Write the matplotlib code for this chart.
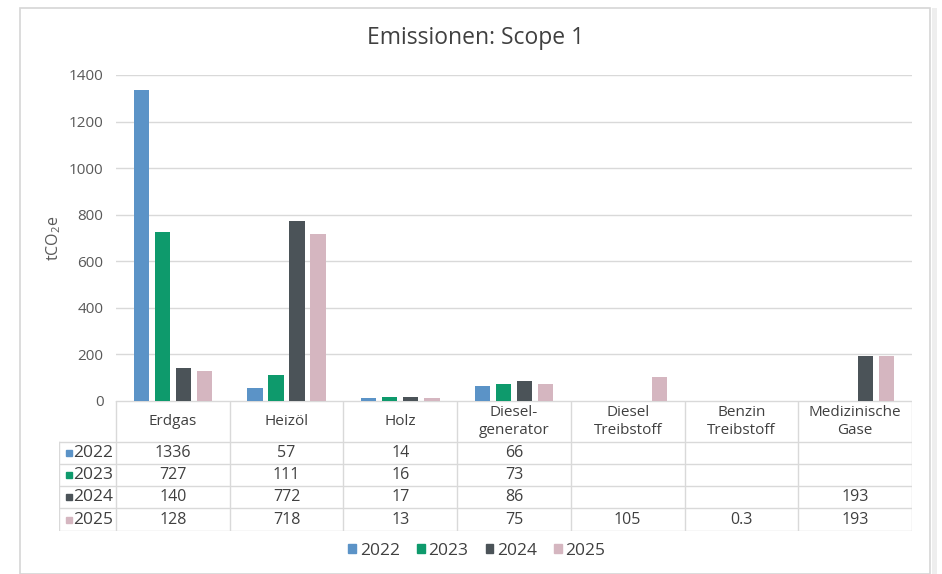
import numpy as np
import matplotlib as mpl
import matplotlib.pyplot as plt
from matplotlib.patches import Rectangle

plt.rcParams['font.family'] = ['Open Sans', 'DejaVu Sans']
plt.rcParams['mathtext.fontset'] = 'custom'
plt.rcParams['mathtext.rm'] = 'Open Sans'
plt.rcParams['mathtext.it'] = 'Open Sans'

# Daten
kategorien = ['Erdgas', 'Heizöl', 'Holz', 'Diesel-\ngenerator', 'Diesel\nTreibstoff',
              'Benzin\nTreibstoff', 'Medizinische\nGase']
jahre = ['2022', '2023', '2024', '2025']
werte_2022 = [1336, 57, 14, 66, None, None, None]
werte_2023 = [727, 111, 16, 73, None, None, None]
werte_2024 = [140, 772, 17, 86, None, None, 193]
werte_2025 = [128, 718, 13, 75, 105, 0.3, 193]
serien = [werte_2022, werte_2023, werte_2024, werte_2025]
farben = ['#5b93c7', '#0e9a6c', '#4b5358', '#d5b6c0']

W, H = 942, 574
fig = plt.figure(figsize=(W / 100, H / 100), dpi=100)
fig.patch.set_facecolor('white')

# Karte mit Rahmen
fig.patches.append(Rectangle((20 / W, 0), 910 / W, 1 - 8 / H, transform=fig.transFigure,
                             fill=False, edgecolor='#d6d6d6', linewidth=1.2))
fig.patches.append(Rectangle((932 / W, 0), 5 / W, 1 - 8 / H, transform=fig.transFigure,
                             facecolor='#eeeeee', edgecolor='none'))


def px(x0, y0, x1, y1):
    return [x0 / W, 1 - y1 / H, (x1 - x0) / W, (y1 - y0) / H]


ax = fig.add_axes(px(116, 75, 912, 401))
ax.set_xlim(-0.5, 6.5)
ax.set_ylim(0, 1400)
for s in ax.spines.values():
    s.set_visible(False)
ax.set_yticks(np.arange(0, 1401, 200))
ax.yaxis.grid(True, color='#d9d9d9', linewidth=1)
ax.set_axisbelow(True)
ax.tick_params(axis='y', length=0, pad=9, labelsize=11, labelcolor='#595959')
ax.set_xticks([])
ax.set_ylabel('tCO$_2$e', fontsize=11.5, color='#595959', labelpad=4)

x = np.arange(len(kategorien))
breite = 0.135
schritt = 0.185
for i, (werte, farbe) in enumerate(zip(serien, farben)):
    v = [w if w is not None else 0 for w in werte]
    ax.bar(x + (i - 1.5) * schritt, v, width=breite, color=farbe, zorder=3)

fig.text(476 / W, 1 - 38 / H, 'Emissionen: Scope 1', fontsize=16.5, color='#404040',
         ha='center', va='center')

# Datentabelle
links = 59
spalte = (912 - 116) / 7
tab = fig.add_axes(px(links, 401, 912, 531))
tab.set_xlim(-0.5 - (116 - links) / spalte, 6.5)
tab.set_ylim(531, 401)
tab.axis('off')
lc = '#d9d9d9'
zeilen_y = [442, 464, 486, 508, 531]
xl = -0.5 - (116 - links) / spalte
tab.plot([-0.5, 6.5], [401, 401], color=lc, lw=1)
for y in zeilen_y:
    tab.plot([xl, 6.5], [y, y], color=lc, lw=1)
for k in range(8):
    tab.plot([k - 0.5, k - 0.5], [401, 531], color=lc, lw=1)
tab.plot([xl, xl], [442, 531], color=lc, lw=1)

for k, name in enumerate(kategorien):
    tab.text(k, 421.5, name, ha='center', va='center', fontsize=11, color='#404040',
             linespacing=1.2)

for i, (jahr, werte, farbe) in enumerate(zip(jahre, serien, farben)):
    ym = (zeilen_y[i] + zeilen_y[i + 1]) / 2
    tab.plot([xl + 0.085], [ym + 0.5], marker='s', markersize=5, color=farbe, linestyle='none')
    tab.text(xl + 0.125, ym + 0.5, jahr, ha='left', va='center', fontsize=12.5, color='#404040')
    for k, w in enumerate(werte):
        if w is not None:
            tab.text(k, ym + 0.5, f'{w:g}', ha='center', va='center', fontsize=11.5,
                     color='#404040')

# Legende
handles = [Rectangle((0, 0), 1, 1, color=f) for f in farben]
fig.legend(handles, jahre, loc='center', bbox_to_anchor=(477 / W, 1 - 551 / H), ncol=4,
           frameon=False, fontsize=12.5, handlelength=0.45, handleheight=0.45,
           handletextpad=0.2, columnspacing=1.0, labelcolor='#404040')

fig.savefig('out.png', dpi=100)
